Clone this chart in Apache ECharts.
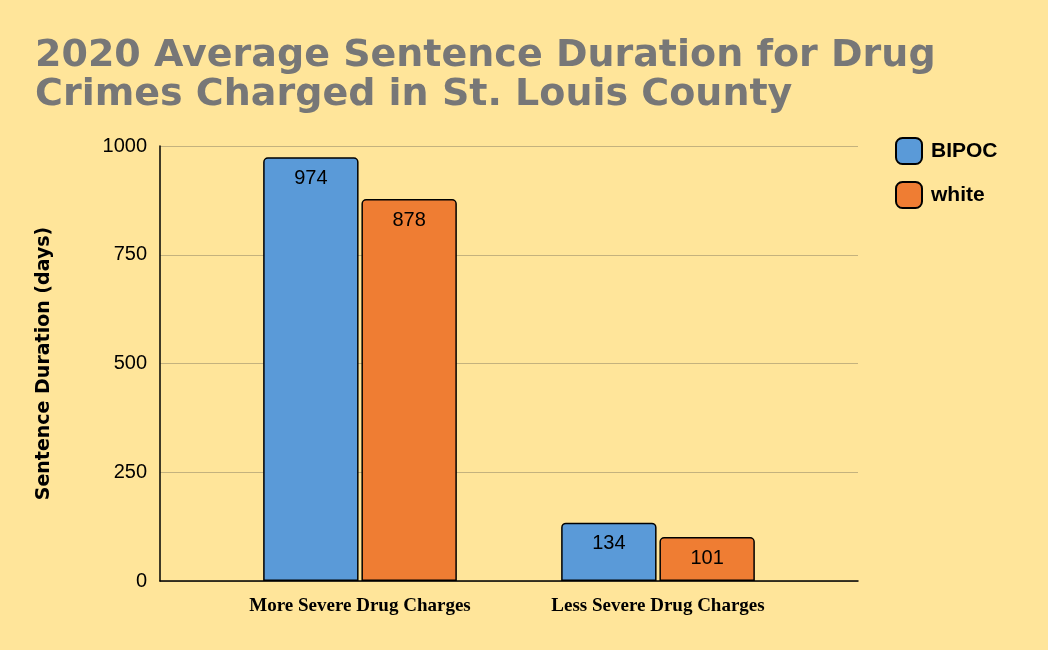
<!DOCTYPE html>
<html><head><meta charset="utf-8">
<script src="https://cdn.jsdelivr.net/npm/echarts@6/dist/echarts.min.js"></script>
<style>html,body{margin:0;background:#ffe59a}#c{width:1048px;height:650px}</style>
</head><body><div id="c"></div>
<script>
var categories = ['More Severe Drug Charges', 'Less Severe Drug Charges'];
var bipoc = [974, 134];
var white = [878, 101];
var yTicks = [0, 250, 500, 750, 1000];

var chart = echarts.init(document.getElementById('c'));
function barSeries(name, data, color) {
    return {
        name: name, type: 'bar', data: data, xAxisIndex: 1, yAxisIndex: 1,
        barGap: '3%', barCategoryGap: '35%',
        itemStyle: {color: color, borderColor: '#000', borderWidth: 1.5, borderRadius: [4, 4, 0, 0]},
        label: {show: true, position: 'insideTop', distance: 11, color: '#000',
            fontFamily: 'Liberation Sans', fontSize: 20}
    };
}
chart.setOption({
    backgroundColor: '#ffe59a',
    title: {
        text: '2020 Average Sentence Duration for Drug\nCrimes Charged in St. Louis County',
        left: 30, top: 32,
        textStyle: {color: '#777777', fontFamily: 'DejaVu Sans', fontWeight: 'bold', fontSize: 38, lineHeight: 39}
    },
    legend: {
        orient: 'vertical', left: 890, top: 132, itemGap: 16,
        itemWidth: 26, itemHeight: 26, icon: 'roundRect',
        textStyle: {fontFamily: 'Liberation Sans', fontWeight: 'bold', fontSize: 21, color: '#000', padding: [0, 0, 0, 4]},
        data: ['BIPOC', 'white']
    },
    grid: [
        {left: 160, right: 190, top: 146, bottom: 69},
        {left: 211, right: 241, top: 146, bottom: 69}
    ],
    xAxis: [{
        type: 'category', gridIndex: 0, data: [''],
        axisLine: {lineStyle: {color: '#000', width: 1.5}},
        axisTick: {show: false}, axisLabel: {show: false}
    }, {
        type: 'category', gridIndex: 1, data: categories,
        axisLine: {show: false}, axisTick: {show: false},
        axisLabel: {fontFamily: 'Liberation Serif', fontWeight: 'bold', fontSize: 19, color: '#000', margin: 16}
    }],
    yAxis: [{
        type: 'value', gridIndex: 0, min: 0, max: 1000, interval: 250,
        name: 'Sentence Duration (days)', nameLocation: 'middle', nameGap: 106,
        nameTextStyle: {fontFamily: 'DejaVu Sans', fontWeight: 'bold', fontSize: 19, color: '#000'},
        axisLine: {show: true, lineStyle: {color: '#000', width: 1.5}},
        axisLabel: {fontFamily: 'Liberation Sans', fontSize: 20, color: '#000', margin: 13,
            formatter: function (v) { return yTicks.indexOf(v) >= 0 ? String(v) : ''; }},
        splitLine: {lineStyle: {color: '#c4b27e', width: 1}}
    }, {
        type: 'value', gridIndex: 1, min: 0, max: 1000, show: false
    }],
    series: [barSeries('BIPOC', bipoc, '#5a9ad8'), barSeries('white', white, '#ef7d33')]
});
</script></body></html>
